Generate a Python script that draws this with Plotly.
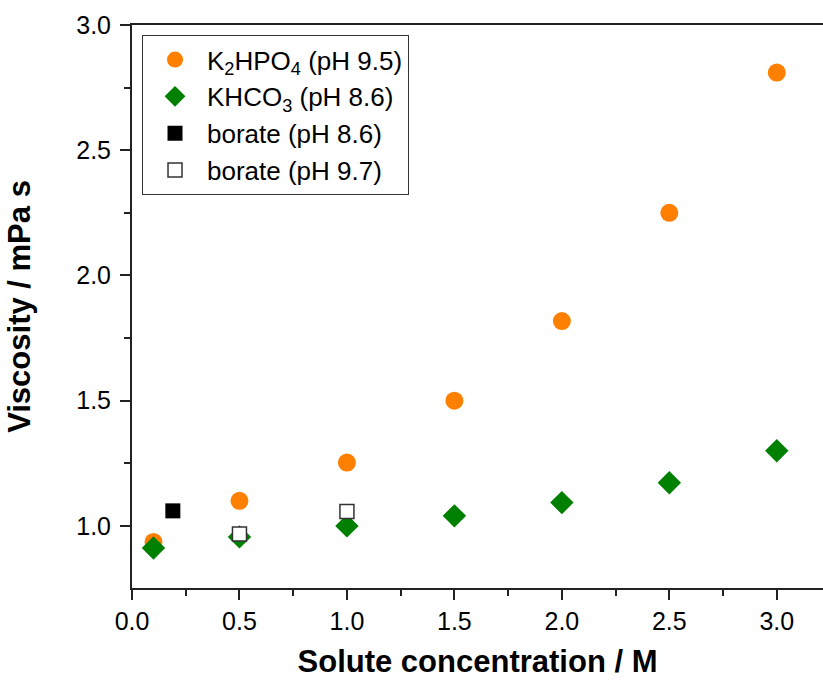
import plotly.graph_objects as go

x_k2hpo4 = [0.1, 0.5, 1.0, 1.5, 2.0, 2.5, 3.0]
y_k2hpo4 = [0.936, 1.10, 1.253, 1.50, 1.818, 2.25, 2.81]
x_khco3 = [0.1, 0.5, 1.0, 1.5, 2.0, 2.5, 3.0]
y_khco3 = [0.912, 0.956, 1.0, 1.04, 1.093, 1.172, 1.30]
x_borate86 = [0.19]
y_borate86 = [1.06]
x_borate97 = [0.5, 1.0]
y_borate97 = [0.968, 1.057]

fig = go.Figure()
fig.add_trace(go.Scatter(x=x_k2hpo4, y=y_k2hpo4, mode="markers",
                         name="K<sub>2</sub>HPO<sub>4</sub> (pH 9.5)",
                         marker=dict(symbol="circle", size=18, color="#FF8000")))
fig.add_trace(go.Scatter(x=x_khco3, y=y_khco3, mode="markers",
                         name="KHCO<sub>3</sub> (pH 8.6)",
                         marker=dict(symbol="diamond", size=18, color="#008000")))
fig.add_trace(go.Scatter(x=x_borate86, y=y_borate86, mode="markers",
                         name="borate (pH 8.6)",
                         marker=dict(symbol="square", size=15, color="black")))
fig.add_trace(go.Scatter(x=x_borate97, y=y_borate97, mode="markers",
                         name="borate (pH 9.7)",
                         marker=dict(symbol="square", size=14, color="white",
                                     line=dict(color="#333333", width=1.5))))

font_family = "Liberation Sans, Arial, sans-serif"
fig.update_layout(
    width=823, height=681,
    margin=dict(l=132, r=0, t=25, b=93),
    plot_bgcolor="white", paper_bgcolor="white",
    font=dict(family=font_family, color="black"),
    showlegend=True,
    legend=dict(x=0.0145, y=0.982, xanchor="left", yanchor="top",
                bordercolor="#333333", borderwidth=1, bgcolor="white",
                font=dict(size=26, family=font_family),
                itemsizing="trace", itemwidth=54, tracegroupgap=0),
    xaxis=dict(range=[0, 3.215], showgrid=False, zeroline=False,
               showline=True, linecolor="#222222", linewidth=2, mirror=True,
               ticks="outside", ticklen=10, tickwidth=2, tickcolor="#222222",
               tickvals=[0, 0.5, 1.0, 1.5, 2.0, 2.5, 3.0],
               ticktext=["0.0", "0.5", "1.0", "1.5", "2.0", "2.5", "3.0"],
               tickfont=dict(size=25),
               minor=dict(tickvals=[0.25, 0.75, 1.25, 1.75, 2.25, 2.75], ticks="outside",
                          ticklen=6, tickwidth=2, tickcolor="#222222"),
               title=dict(text="<b>Solute concentration / M</b>", font=dict(size=31), standoff=16)),
    yaxis=dict(range=[0.752, 3.0], showgrid=False, zeroline=False,
               showline=True, linecolor="#222222", linewidth=2, mirror=False,
               ticks="outside", ticklen=10, tickwidth=2, tickcolor="#222222",
               ticklabelstandoff=4,
               tickvals=[1.0, 1.5, 2.0, 2.5, 3.0],
               ticktext=["1.0", "1.5", "2.0", "2.5", "3.0"],
               tickfont=dict(size=25),
               minor=dict(tickvals=[1.25, 1.75, 2.25, 2.75], ticks="outside",
                          ticklen=6, tickwidth=2, tickcolor="#222222"),
               title=dict(text="<b>Viscosity / mPa s</b>", font=dict(size=31), standoff=36)),
)

fig.write_html("out.html")
